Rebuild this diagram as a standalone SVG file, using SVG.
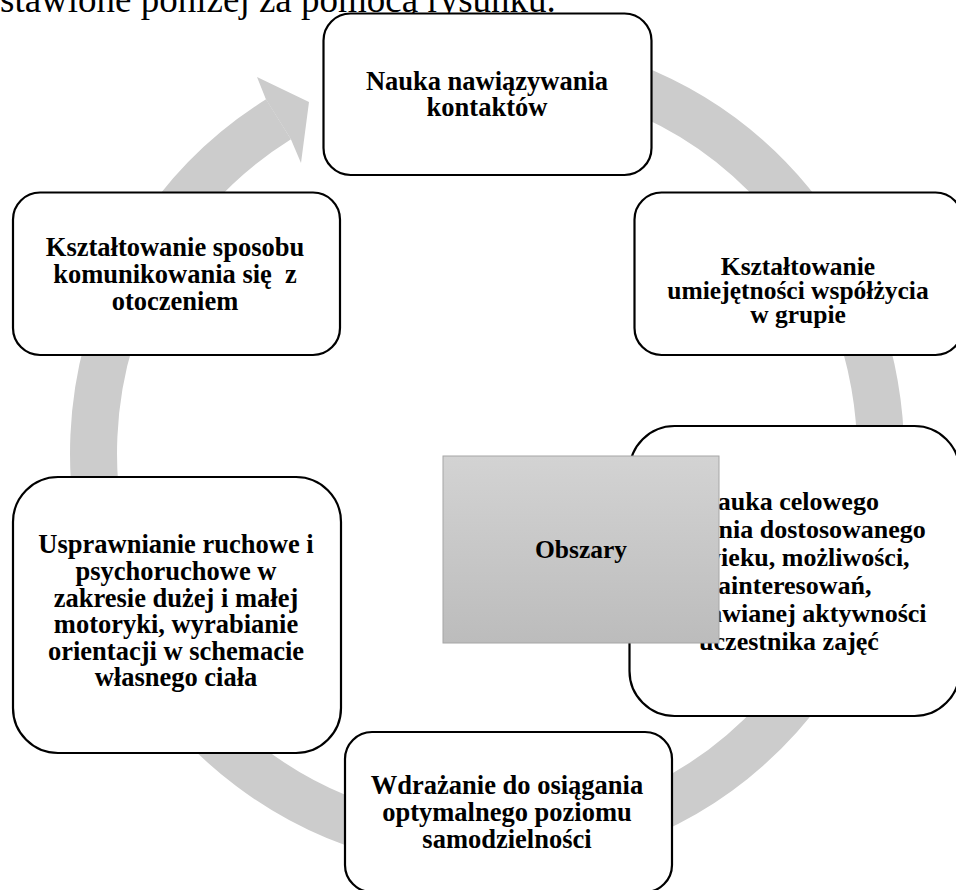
<svg xmlns="http://www.w3.org/2000/svg" width="956" height="890" viewBox="0 0 956 890">
<style>
.ring{fill:none;stroke:#cccccc;stroke-width:47}
.head{fill:#cccccc}
.node rect{fill:#ffffff;stroke:#000000;stroke-width:2.2}
.node text{font-family:"Liberation Serif","Times New Roman",serif;font-weight:bold;font-size:26.5px;text-anchor:middle;fill:#000000}
.center rect{fill:url(#gr);stroke:#a6a6a6;stroke-width:1}
.body{font-family:"Liberation Serif","Times New Roman",serif;font-size:37px;fill:#000000}
</style>
<defs>
<linearGradient id="gr" x1="0" y1="0" x2="0" y2="1">
<stop offset="0" stop-color="#d3d3d3"/>
<stop offset="1" stop-color="#bcbcbc"/>
</linearGradient>
</defs>
<rect x="0" y="0" width="956" height="890" fill="#ffffff"/>
<text class="body" x="0" y="12">stawione poniżej za pomocą rysunku.</text>
<g id="connectors">
<path class="ring" d="M 452.7 61.0 A 393.5 393.5 0 1 1 278.5 119.3"/>
<polygon class="head" points="266,99.4 257,77 309,102 301,163 290.9,139.2"/>
</g>
<g id="node-kontakty" class="node">
<rect x="323.5" y="13.5" width="328" height="161.5" rx="27"/>
<text x="487" y="89.5">Nauka nawiązywania</text>
<text x="487" y="116">kontaktów</text>
</g>
<g id="node-wspolzycie" class="node">
<rect x="634.5" y="192.5" width="328" height="162.5" rx="27"/>
<text x="798" y="275" style="font-size:25.5px">Kształtowanie</text>
<text x="798" y="299" style="font-size:25.5px">umiejętności współżycia</text>
<text x="798" y="323" style="font-size:25.5px">w grupie</text>
</g>
<g id="node-dzialanie" class="node">
<rect x="629.5" y="426" width="330" height="290" rx="45"/>
<text x="789" y="510" style="font-size:26px">Nauka celowego</text>
<text x="789" y="538" style="font-size:26px">działania dostosowanego</text>
<text x="789" y="566" style="font-size:26px">do wieku, możliwości,</text>
<text x="789" y="594" style="font-size:26px">zainteresowań,</text>
<text x="789" y="622" style="font-size:26px">przejawianej aktywności</text>
<text x="789" y="650" style="font-size:26px">uczestnika zajęć</text>
</g>
<g id="node-samodzielnosc" class="node">
<rect x="345" y="732" width="327" height="160" rx="27"/>
<text x="507" y="794">Wdrażanie do osiągania</text>
<text x="507" y="821">optymalnego poziomu</text>
<text x="507" y="848">samodzielności</text>
</g>
<g id="node-ruchowe" class="node">
<rect x="13" y="477" width="328" height="276" rx="45"/>
<text x="176" y="553">Usprawnianie ruchowe i</text>
<text x="176" y="580">psychoruchowe w</text>
<text x="176" y="607">zakresie dużej i małej</text>
<text x="176" y="633">motoryki, wyrabianie</text>
<text x="176" y="660">orientacji w schemacie</text>
<text x="176" y="686">własnego ciała</text>
</g>
<g id="node-komunikowanie" class="node">
<rect x="13" y="192.5" width="327" height="162.5" rx="27"/>
<text x="175" y="256">Kształtowanie sposobu</text>
<text x="175" y="283" xml:space="preserve">komunikowania się  z</text>
<text x="175" y="310">otoczeniem</text>
</g>
<g id="node-obszary" class="center">
<rect x="443" y="456" width="276" height="187"/>
<text x="581" y="558" style="font-family:'Liberation Serif','Times New Roman',serif;font-weight:bold;font-size:25.5px;text-anchor:middle;fill:#000">Obszary</text>
</g>
</svg>
